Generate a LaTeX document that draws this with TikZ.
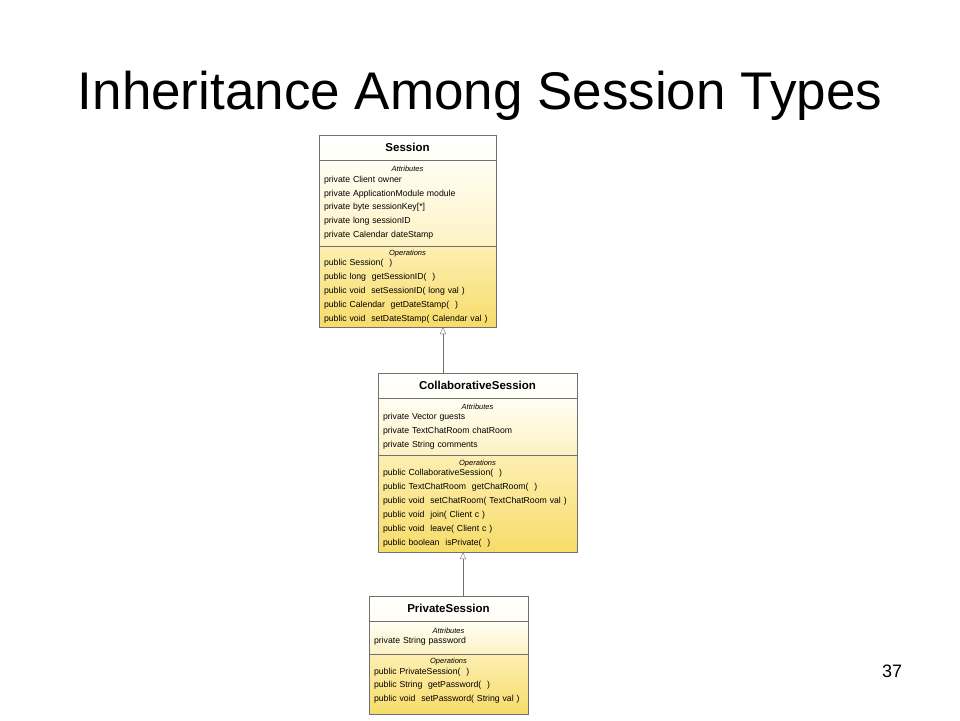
\documentclass[tikz,border=0pt]{standalone}
\usepackage{fontspec}
\setmainfont{Liberation Sans}
\usetikzlibrary{positioning,arrows.meta}
\definecolor{umlborder}{RGB}{112, 112, 112}
\definecolor{umlcream}{RGB}{255, 254, 244}
\definecolor{umllight}{RGB}{253, 242, 196}
\definecolor{umlpale}{RGB}{253, 239, 178}
\definecolor{umldeep}{RGB}{247, 220, 106}

\tikzset{
    umlhead/.style={draw=umlborder, top color=white, bottom color=umlcream, minimum height=25pt, outer sep=0pt, inner sep=0pt, font=\bfseries\fontsize{11.5}{13}\selectfont},
    umlattr/.style={draw=umlborder, top color=umlcream, bottom color=umllight, outer sep=0pt, inner xsep=5pt, inner ysep=0pt, align=left, font=\fontsize{8.7}{13.9}\selectfont},
    umlops/.style={draw=umlborder, top color=umlpale, bottom color=umldeep, outer sep=0pt, inner xsep=5pt, inner ysep=0pt, align=left, font=\fontsize{8.7}{13.9}\selectfont},
    inherit/.style={draw=umlborder, -{Triangle[open, length=7pt, width=6pt]}}
}
\newcommand{\umllabel}[1]{\makebox[\linewidth]{\fontsize{7.5}{8}\selectfont\itshape #1}\\[-3.6pt]}

\begin{document}
\begin{tikzpicture}[x=1pt, y=-1pt]
    \useasboundingbox (0,0) rectangle (960,720);

    % Title and page number
    \node[font=\fontsize{53}{60}\selectfont, anchor=base] (title) at (480,109) {Inheritance Among Session Types};
    \node[font=\fontsize{18}{20}\selectfont, anchor=base] (page) at (892,677) {37};

    % Session
    \node[umlhead, minimum width=177pt, anchor=north] (sessionhead) at (407.5,135) {Session};
    \node[umlattr, text width=167pt, minimum height=86pt, below=0pt of sessionhead] (sessionattr) {\umllabel{Attributes}private Client owner\\ private ApplicationModule module\\ private byte sessionKey[*]\\ private long sessionID\\ private Calendar dateStamp};
    \node[umlops, text width=167pt, minimum height=81pt, below=0pt of sessionattr] (sessionops) {\umllabel{Operations}public Session(~~)\\ public long~~getSessionID(~~)\\ public void~~setSessionID( long val )\\ public Calendar~~getDateStamp(~~)\\ public void~~setDateStamp( Calendar val )};

    % CollaborativeSession
    \node[umlhead, minimum width=199pt, anchor=north] (collabhead) at (477.5,373) {CollaborativeSession};
    \node[umlattr, text width=189pt, minimum height=57pt, below=0pt of collabhead] (collabattr) {\umllabel{Attributes}private Vector guests\\ private TextChatRoom chatRoom\\ private String comments};
    \node[umlops, text width=189pt, minimum height=97pt, below=0pt of collabattr] (collabops) {\umllabel{Operations}public CollaborativeSession(~~)\\ public TextChatRoom~~getChatRoom(~~)\\ public void~~setChatRoom( TextChatRoom val )\\ public void~~join( Client c )\\ public void~~leave( Client c )\\ public boolean~~isPrivate(~~)};

    % PrivateSession
    \node[umlhead, minimum width=159pt, anchor=north] (privhead) at (448.5,596) {PrivateSession};
    \node[umlattr, text width=149pt, minimum height=33pt, below=0pt of privhead] (privattr) {\umllabel{Attributes}private String password\\[-10pt]\mbox{}};
    \node[umlops, text width=149pt, minimum height=60pt, below=0pt of privattr] (privops) {\umllabel{Operations}public PrivateSession(~~)\\ public String~~getPassword(~~)\\ public void~~setPassword( String val )\\[-6pt]\mbox{}};

    % Inheritance
    \draw[inherit] ([xshift=65pt]collabhead.north west) -- ([xshift=65pt]collabhead.north west |- sessionops.south);
    \draw[inherit] ([xshift=94pt]privhead.north west) -- ([xshift=94pt]privhead.north west |- collabops.south);
\end{tikzpicture}
\end{document}
